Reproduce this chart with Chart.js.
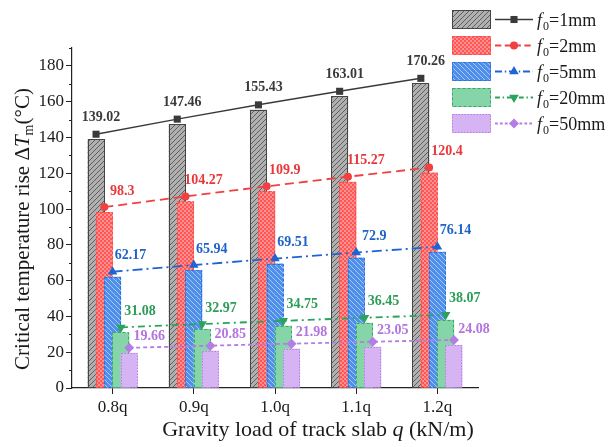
<!DOCTYPE html>
<html>
<head>
<meta charset="utf-8">
<script src="https://cdn.jsdelivr.net/npm/chart.js@4.4.1/dist/chart.umd.min.js"></script>
<style>
body { margin: 0; background: #fff; }
#wrap { width: 612px; height: 447px; }
</style>
</head>
<body>
<div id="wrap"><canvas id="myChart" width="612" height="447"></canvas></div>
<script>
// gravity load categories
var loads = ['0.8q', '0.9q', '1.0q', '1.1q', '1.2q'];
// legend names (f0 = ...)
var gapNames = ['1mm', '2mm', '5mm', '20mm', '50mm'];
// critical temperature rise for each gap
var f1mm = [139.02, 147.46, 155.43, 163.01, 170.26];
var f2mm = [98.3, 104.27, 109.9, 115.27, 120.4];
var f5mm = [62.17, 65.94, 69.51, 72.9, 76.14];
var f20mm = [31.08, 32.97, 34.75, 36.45, 38.07];
var f50mm = [19.66, 20.85, 21.98, 23.05, 24.08];
// y axis tick labels
var yTicks = [0, 20, 40, 60, 80, 100, 120, 140, 160, 180];

var allSeries = [f1mm, f2mm, f5mm, f20mm, f50mm];
var serif = "'Liberation Serif', 'Times New Roman', serif";

/**
 * Build a fill pattern for the bars
 */
function makePattern(kind) {
    var c = document.createElement('canvas');
    var s = 5;
    c.width = s; c.height = s;
    var g = c.getContext('2d');
    if (kind == 'gray') {
        g.fillStyle = '#b0b0b0';
        g.fillRect(0, 0, s, s);
        g.strokeStyle = '#5e5e5e';
        g.lineWidth = 1;
        g.beginPath();
        g.moveTo(0, s); g.lineTo(s, 0);
        g.moveTo(-1, 1); g.lineTo(1, -1);
        g.moveTo(s - 1, s + 1); g.lineTo(s + 1, s - 1);
        g.stroke();
    } else if (kind == 'blue') {
        g.fillStyle = '#4d8fea';
        g.fillRect(0, 0, s, s);
        g.strokeStyle = '#a8c9f8';
        g.lineWidth = 1;
        g.beginPath();
        g.moveTo(0, 0); g.lineTo(s, s);
        g.moveTo(-1, s - 1); g.lineTo(1, s + 1);
        g.moveTo(s - 1, -1); g.lineTo(s + 1, 1);
        g.stroke();
    } else if (kind == 'red') {
        c.width = 4; c.height = 4;
        g.fillStyle = '#ff9090';
        g.fillRect(0, 0, 4, 4);
        g.fillStyle = '#ff5555';
        g.fillRect(0, 0, 2, 2);
        g.fillRect(2, 2, 2, 2);
    }
    return g.createPattern(c, 'repeat');
}

var looks = [
    { fill: makePattern('gray'), edge: '#454545', edgeDash: [], line: '#3a3a3a', dash: [], width: 1.5,
      marker: 'rect', rot: 0, radius: 5, text: '#3a3a3a', dx: 5, dy: -17 },
    { fill: makePattern('red'), edge: '#ff4a4a', edgeDash: [3, 2], line: '#f04040', dash: [9, 5], width: 1.8,
      marker: 'circle', rot: 0, radius: 4, text: '#e8383c', dx: 18, dy: -16 },
    { fill: makePattern('blue'), edge: '#2b6fd8', edgeDash: [3, 2], line: '#1f64d4', dash: [10, 4, 2, 4], width: 1.8,
      marker: 'triangle', rot: 0, radius: 5.5, text: '#1f63c8', dx: 18, dy: -16 },
    { fill: '#86d5a8', edge: '#36a866', edgeDash: [3, 2], line: '#2aa35c', dash: [7, 4, 2, 4], width: 1.8,
      marker: 'triangle', rot: 180, radius: 5.5, text: '#2c9c57', dx: 19, dy: -16 },
    { fill: '#d6b4f4', edge: '#b47ee6', edgeDash: [1.5, 1.5], line: '#b57ce6', dash: [4, 3], width: 1.8,
      marker: 'rectRot', rot: 0, radius: 5, text: '#b374df', dx: 20, dy: -11 }
];

// horizontal shift of each gap inside a load group (in category units)
var groupShift = [-2, -1, 0, 1, 2].map(function (k) { return k * 0.102; });
var markerLift = 5; // markers sit a little above the bar top

function seriesPoints(k) {
    return allSeries[k].map(function (v, i) { return { x: i + groupShift[k], y: v }; });
}

var datasets = [];
for (var k = 0; k < allSeries.length; k++) {
    datasets.push({
        type: 'line',
        label: 'f0=' + gapNames[k],
        data: seriesPoints(k),
        borderColor: looks[k].line,
        backgroundColor: looks[k].line,
        borderWidth: looks[k].width,
        borderDash: looks[k].dash,
        pointStyle: looks[k].marker,
        pointRotation: looks[k].rot,
        pointRadius: looks[k].radius,
        pointBorderWidth: 0,
        pointBackgroundColor: looks[k].line,
        tension: 0,
        order: 0
    });
}
for (var k = 0; k < allSeries.length; k++) {
    datasets.push({
        type: 'bar',
        label: 'bar ' + gapNames[k],
        data: seriesPoints(k),
        backgroundColor: looks[k].fill,
        borderWidth: 0,
        grouped: false,
        barPercentage: 1,
        categoryPercentage: 3,
        maxBarThickness: 17,
        order: 10 - k,
        gapIndex: k
    });
}

function drawPointShape(ctx, style, rot, r, x, y, color) {
    ctx.save();
    ctx.fillStyle = color;
    if (Chart.helpers && Chart.helpers.drawPoint) {
        Chart.helpers.drawPoint(ctx, { pointStyle: style, rotation: rot, radius: r, borderWidth: 0 }, x, y);
    } else {
        ctx.beginPath();
        ctx.arc(x, y, r, 0, Math.PI * 2);
        ctx.fill();
    }
    ctx.restore();
}

function drawParts(ctx, parts, x, y) {
    var total = 0;
    parts.forEach(function (p) { ctx.font = p[1]; total += ctx.measureText(p[0]).width; });
    var cx = x - total / 2;
    parts.forEach(function (p) {
        ctx.font = p[1];
        ctx.fillText(p[0], cx, y + (p[2] || 0));
        cx += ctx.measureText(p[0]).width;
    });
}

/**
 * Lift markers, draw dashed bar edges, value labels, minor ticks, titles and legend
 */
var extras = {
    id: 'extras',
    afterDatasetsUpdate: function (chart) {
        chart.data.datasets.forEach(function (ds, i) {
            if (ds.type != 'line') return;
            chart.getDatasetMeta(i).data.forEach(function (pt) { pt.y -= markerLift; });
        });
    },
    afterDatasetDraw: function (chart, args) {
        var ds = chart.data.datasets[args.index];
        if (ds.type != 'bar') return;
        var lk = looks[ds.gapIndex];
        var ctx = chart.ctx;
        ctx.save();
        ctx.strokeStyle = lk.edge;
        ctx.lineWidth = 1;
        ctx.setLineDash(lk.edgeDash);
        args.meta.data.forEach(function (bar) {
            var l = Math.round(bar.x - bar.width / 2) + 0.5;
            var r = Math.round(bar.x + bar.width / 2) - 0.5;
            var t = Math.round(bar.y) + 0.5;
            ctx.strokeRect(l, t, r - l, bar.base - t);
        });
        ctx.restore();
    },
    afterDatasetsDraw: function (chart) {
        var ctx = chart.ctx;
        ctx.save();
        ctx.font = 'bold 14px ' + serif;
        ctx.textAlign = 'center';
        ctx.textBaseline = 'middle';
        chart.data.datasets.forEach(function (ds, i) {
            if (ds.type != 'line') return;
            var lk = looks[i];
            ctx.fillStyle = lk.text;
            chart.getDatasetMeta(i).data.forEach(function (pt, j) {
                ctx.fillText(String(allSeries[i][j]), pt.x + lk.dx, pt.y + lk.dy);
            });
        });
        ctx.restore();
    },
    afterDraw: function (chart) {
        var ctx = chart.ctx;
        var ys = chart.scales.y;
        var left = chart.chartArea.left;
        ctx.save();
        // minor ticks on the y axis
        ctx.strokeStyle = '#222';
        ctx.lineWidth = 1;
        ctx.beginPath();
        for (var v = 10; v <= 190; v += 20) {
            var py = Math.round(ys.getPixelForValue(v)) + 0.5;
            ctx.moveTo(left - 3, py);
            ctx.lineTo(left, py);
        }
        ctx.stroke();

        // axis titles
        ctx.fillStyle = '#1a1a1a';
        ctx.textAlign = 'left';
        ctx.textBaseline = 'alphabetic';
        drawParts(ctx, [
            ['Gravity load of track slab ', '22px ' + serif],
            ['q', 'italic 22px ' + serif],
            [' (kN/m)', '22px ' + serif]
        ], 318, 436);
        ctx.save();
        ctx.translate(22, 229);
        ctx.rotate(-Math.PI / 2);
        drawParts(ctx, [
            ['Critical temperature rise \u0394', '21px ' + serif],
            ['T', 'italic 21px ' + serif],
            ['m', '14px ' + serif, 4],
            ['(\u00b0C)', '21px ' + serif]
        ], 0, 7);
        ctx.restore();

        // legend
        for (var k = 0; k < looks.length; k++) {
            var lk = looks[k];
            var yc = 19.5 + 26 * k;
            ctx.fillStyle = lk.fill;
            ctx.fillRect(452, yc - 9.5, 39, 19);
            ctx.strokeStyle = lk.edge;
            ctx.setLineDash(lk.edgeDash);
            ctx.lineWidth = 1;
            ctx.strokeRect(452.5, yc - 9, 38, 18);
            ctx.strokeStyle = lk.line;
            ctx.lineWidth = lk.width;
            ctx.setLineDash(lk.dash.length ? lk.dash.map(function (d) { return d * 0.7; }) : []);
            ctx.beginPath();
            ctx.moveTo(495, yc);
            ctx.lineTo(533, yc);
            ctx.stroke();
            ctx.setLineDash([]);
            drawPointShape(ctx, lk.marker, lk.rot, lk.radius, 514, yc, lk.line);
            ctx.fillStyle = '#1a1a1a';
            var x0 = 537;
            ctx.font = 'italic 18px ' + serif;
            ctx.fillText('f', x0, yc + 6);
            x0 += ctx.measureText('f').width + 1;
            ctx.font = '12px ' + serif;
            ctx.fillText('0', x0, yc + 10);
            x0 += ctx.measureText('0').width;
            ctx.font = '18px ' + serif;
            ctx.fillText('=' + gapNames[k], x0, yc + 6);
        }
        ctx.restore();
    }
};

var ctx = document.getElementById('myChart').getContext('2d');
var myChart = new Chart(ctx, {
    type: 'bar',
    data: { datasets: datasets },
    options: {
        responsive: false,
        animation: false,
        events: [],
        layout: { padding: { top: 48, right: 134, left: 0, bottom: 0 } },
        plugins: { legend: { display: false }, tooltip: { enabled: false } },
        scales: {
            x: {
                type: 'linear',
                min: -0.5,
                max: 4.5,
                offset: false,
                afterBuildTicks: function (scale) {
                    scale.ticks = loads.map(function (l, i) { return { value: i }; });
                },
                afterFit: function (scale) { scale.height = 59; },
                ticks: {
                    callback: function (v) { return loads[v]; },
                    font: { family: serif, size: 17 },
                    color: '#1a1a1a',
                    padding: 3,
                    maxRotation: 0
                },
                grid: { offset: false, drawOnChartArea: false, tickLength: 6, tickColor: '#222' },
                border: { color: '#222', width: 1.2 }
            },
            y: {
                min: 0,
                max: 190,
                afterBuildTicks: function (scale) {
                    scale.ticks = yTicks.map(function (v) { return { value: v }; });
                },
                afterFit: function (scale) { scale.width = 72; },
                ticks: {
                    font: { family: serif, size: 17 },
                    color: '#1a1a1a',
                    padding: 2
                },
                grid: { drawOnChartArea: false, tickLength: 6, tickColor: '#222' },
                border: { color: '#222', width: 1.2 }
            }
        }
    },
    plugins: [extras]
});
</script>
</body>
</html>
